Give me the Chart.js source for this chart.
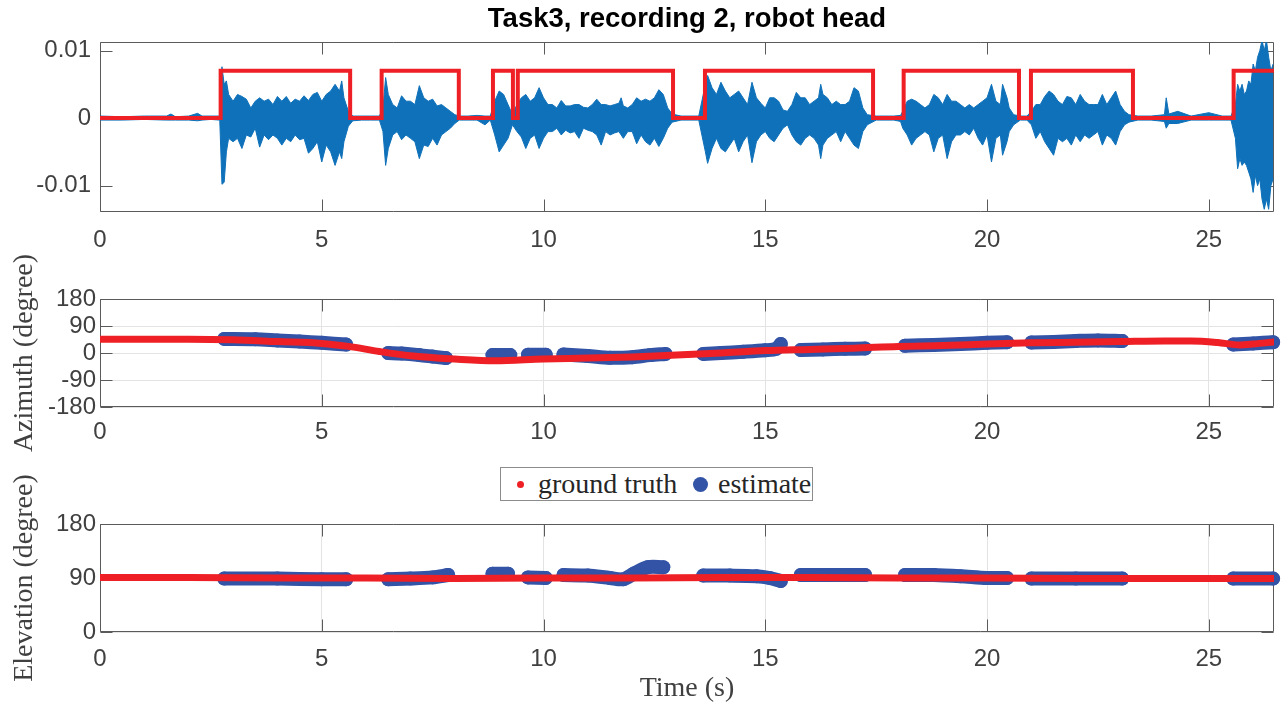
<!DOCTYPE html>
<html>
<head>
<meta charset="utf-8">
<title>Task3, recording 2, robot head</title>
<script src="https://cdn.jsdelivr.net/npm/chart.js@4.4.1/dist/chart.umd.min.js"></script>
<style>
  html, body { margin: 0; padding: 0; background: #fff; }
  body { width: 1281px; height: 706px; position: relative; overflow: hidden; }
  canvas { position: absolute; left: 0; }
  #legend {
    position: absolute; left: 500px; top: 467px; width: 313px; height: 34px;
    box-sizing: border-box; border: 1px solid #8c8c8c; background: #fff;
    font-family: "Liberation Serif", "Times New Roman", serif; font-size: 28px; color: #262626;
    z-index: 5;
  }
  #legend .dot { position: absolute; border-radius: 50%; }
  #legend .txt { position: absolute; top: 0; line-height: 31px; white-space: nowrap; }
</style>
</head>
<body>
<canvas id="audio" width="1281" height="252" style="top:0px"></canvas>
<canvas id="azimuth" width="1281" height="225" style="top:245px"></canvas>
<canvas id="elevation" width="1281" height="236" style="top:470px"></canvas>
<div id="legend">
  <span class="dot" style="left:16px; top:13px; width:7px; height:7px; background:#ee2025"></span>
  <span class="txt" style="left:37px">ground truth</span>
  <span class="dot" style="left:192px; top:9px; width:15px; height:15px; background:#3354a6"></span>
  <span class="txt" style="left:217px">estimate</span>
</div>
<script>
// time axis (s)
const timeMax = 26.47;
const timeTicks = [0, 5, 10, 15, 20, 25];

// microphone signal envelope, in units of 1e-3
const audioTime = [
  0, 0.5, 1.0, 1.5, 1.6, 1.7, 2.0, 2.2, 2.3, 2.5, 2.7,
  2.75, 2.8, 2.85, 2.9, 3.0, 3.1, 3.2, 3.3, 3.4, 3.5, 3.6, 3.7, 3.8, 3.9, 4.0, 4.1, 4.2, 4.3, 4.4, 4.5, 4.6, 4.7, 4.8, 4.9, 5.0, 5.1, 5.2, 5.3, 5.4, 5.45, 5.5, 5.6, 5.7,
  5.9, 6.1, 6.3,
  6.38, 6.44, 6.5, 6.6, 6.7, 6.8, 6.9, 7.0, 7.1, 7.2, 7.3, 7.4, 7.5, 7.6, 7.7, 7.8, 7.9, 8.0, 8.1,
  8.3, 8.5, 8.68, 8.8,
  8.9, 9.0, 9.1, 9.2, 9.3,
  9.4, 9.5, 9.6, 9.7, 9.8, 9.9, 10.0, 10.1, 10.2, 10.3, 10.4, 10.5, 10.6, 10.7, 10.8, 10.9, 11.0, 11.1, 11.2, 11.3, 11.4, 11.5, 11.6, 11.7, 11.75, 11.8, 11.9, 12.0, 12.1, 12.2, 12.3, 12.4, 12.5, 12.6, 12.7, 12.8, 12.9,
  13.1, 13.3, 13.5,
  13.65, 13.7, 13.8, 13.9, 14.0, 14.1, 14.2, 14.3, 14.4, 14.5, 14.6, 14.7, 14.8, 14.9, 15.0, 15.1, 15.2, 15.3, 15.4, 15.5, 15.6, 15.7, 15.8, 15.9, 16.0, 16.1, 16.2, 16.25, 16.3, 16.4, 16.5, 16.6, 16.7, 16.8, 16.9, 17.0, 17.1, 17.2, 17.3,
  17.5, 17.7, 17.9, 18.05,
  18.1, 18.2, 18.3, 18.4, 18.5, 18.6, 18.7, 18.8, 18.9, 19.0, 19.1, 19.2, 19.3, 19.4, 19.5, 19.6, 19.7, 19.8, 19.9, 20.0, 20.1, 20.2, 20.3, 20.35, 20.45, 20.5, 20.6,
  20.75, 20.9,
  21.0, 21.1, 21.2, 21.3, 21.4, 21.5, 21.6, 21.7, 21.8, 21.9, 22.0, 22.1, 22.2, 22.3, 22.4, 22.5, 22.6, 22.7, 22.8, 22.9, 23.0, 23.1, 23.2,
  23.4, 23.7, 24.0, 24.04, 24.1, 24.3, 24.6, 25.0, 25.3, 25.5,
  25.6, 25.65, 25.7, 25.75, 25.8, 25.85, 25.9, 25.95, 26.0, 26.05, 26.1, 26.15, 26.2, 26.25, 26.3, 26.35, 26.4, 26.45
];
const audioUpper = [
  0.3, 0.2, 0.3, 0.3, 0.6, 0.2, 0.3, 0.7, 0.3, 0.3, 0.3,
  7.6, 5.0, 5.5, 3.5, 2.5, 3.5, 3.2, 2.8, 1.5, 2.5, 3.0, 2.5, 2.8, 2.0, 3.2, 2.5, 3.2, 2.2, 2.8, 2.5, 3.3, 2.6, 3.5, 3.8, 2.5, 3.5, 4.0, 5.0, 4.0, 5.5, 3.0, 1.0, 0.3,
  0.3, 0.3, 0.3,
  1.5, 6.0, 3.5, 2.0, 1.5, 3.3, 2.5, 2.5, 2.0, 4.8, 3.0, 2.5, 2.8, 1.8, 2.0, 1.5, 1.0, 0.5, 0.3,
  0.3, 0.4, 0.3, 0.3,
  2.5, 4.0, 3.5, 2.0, 0.5,
  2.0, 3.0, 3.5, 2.5, 3.0, 4.5, 3.0, 2.0, 2.0, 1.5, 2.6, 1.8, 1.8, 2.0, 2.0, 1.6, 1.5, 2.0, 2.8, 2.0, 2.0, 1.8, 2.0, 2.2, 3.0, 1.8, 1.5, 2.0, 3.0, 2.5, 2.8, 2.5, 3.0, 4.2, 3.5, 1.5, 0.6,
  0.3, 0.3, 0.3,
  5.0, 6.3, 4.5, 3.5, 5.3, 4.0, 3.0, 3.5, 4.0, 3.0, 2.0, 5.3, 3.0, 2.2, 1.5, 3.0, 3.0, 2.5, 1.2, 1.0, 2.0, 3.8, 3.0, 3.0, 2.0, 2.5, 3.0, 5.0, 3.5, 3.0, 2.0, 2.5, 2.0, 2.0, 2.5, 4.5, 4.0, 1.5, 0.5,
  0.3, 0.3, 0.3, 0.4,
  1.0, 2.5, 2.8, 2.5, 2.0, 1.5, 2.0, 3.5, 3.0, 2.0, 3.5, 2.5, 2.5, 2.0, 1.5, 2.0, 1.5, 2.0, 2.5, 3.0, 5.0, 2.5, 2.0, 5.0, 3.0, 1.5, 0.5,
  0.3, 0.3,
  1.0, 2.0, 2.0, 3.2, 4.0, 3.5, 2.5, 2.0, 3.2, 3.0, 2.0, 3.5, 2.5, 2.0, 2.0, 2.0, 3.5, 2.0, 3.0, 4.0, 2.0, 1.0, 0.5,
  0.3, 0.3, 0.5, 3.0, 0.6, 1.0, 0.3, 0.8, 0.3, 0.3,
  2.0, 5.0, 4.0, 5.0, 3.5, 4.0, 5.5, 5.0, 8.0, 7.0, 9.0, 10.0, 11.5, 10.0, 11.5, 9.0, 7.0, 8.0
];
const audioLower = [
  -0.3, -0.3, -0.2, -0.3, -0.3, -0.3, -0.3, -0.4, -0.3, -0.2, -0.3,
  -9.8, -9.5, -5.0, -3.0, -3.5, -3.0, -4.5, -2.5, -2.8, -1.5, -4.3, -2.5, -3.2, -2.5, -3.0, -4.0, -3.0, -3.5, -2.5, -3.2, -3.0, -5.2, -4.5, -3.5, -6.5, -4.0, -5.0, -7.0, -5.0, -6.0, -3.5, -1.2, -0.4,
  -0.3, -0.3, -0.3,
  -2.0, -7.0, -4.5, -2.5, -2.0, -3.2, -2.5, -3.0, -3.5, -6.0, -4.0, -4.2, -3.0, -4.0, -2.5, -2.0, -1.5, -0.8, -0.3,
  -0.3, -0.3, -1.0, -0.3,
  -2.5, -5.0, -4.0, -3.0, -1.0,
  -2.0, -2.8, -4.5, -3.0, -2.5, -4.5, -3.0, -2.0, -2.0, -1.5, -2.5, -1.8, -2.2, -2.0, -3.0, -1.5, -1.8, -2.0, -2.5, -4.0, -2.0, -2.5, -2.2, -2.0, -2.5, -3.0, -2.0, -2.0, -3.8, -2.5, -3.5, -4.0, -3.0, -4.2, -3.0, -1.5, -0.6,
  -0.3, -0.3, -0.3,
  -5.0, -6.7, -4.5, -3.0, -4.5, -5.0, -4.0, -3.0, -5.0, -3.5, -2.5, -6.6, -3.5, -2.5, -2.0, -3.0, -3.5, -2.5, -1.5, -1.0, -2.5, -3.5, -4.0, -3.0, -2.5, -3.0, -4.0, -6.0, -4.0, -3.0, -2.5, -2.0, -3.5, -2.0, -3.0, -4.0, -4.5, -2.0, -1.0,
  -0.3, -0.3, -0.3, -0.5,
  -1.5, -2.5, -4.0, -3.0, -2.5, -2.0, -2.5, -5.0, -3.0, -2.5, -6.0, -3.5, -2.5, -2.5, -2.0, -2.5, -1.5, -3.0, -4.0, -2.5, -6.5, -3.0, -2.5, -5.5, -3.5, -2.0, -1.0,
  -0.3, -0.3,
  -1.0, -3.0, -2.0, -3.5, -4.5, -5.5, -3.0, -3.5, -3.0, -4.0, -2.5, -3.5, -2.5, -3.0, -2.5, -2.0, -4.0, -2.5, -3.0, -4.0, -2.0, -1.0, -0.6,
  -0.3, -0.3, -0.5, -1.5, -0.8, -0.8, -0.3, -0.3, -0.3, -0.3,
  -3.0, -7.5, -6.0, -7.0, -6.5, -7.0, -8.0, -9.0, -11.0, -8.5, -10.0, -9.0, -12.0, -13.5, -12.0, -13.5, -10.0, -9.0
];
const audioMin = -13.9;
const audioMax = 11.26;
const audioTicks = [-10, 0, 10];
const audioTickLabels = ['-0.01', '0', '0.01'];

// voice activity (red square wave), same units
const vadTime = [0, 2.72, 5.64, 6.35, 8.09, 8.86, 9.31, 9.42, 12.92, 13.64, 17.43, 18.12, 20.72, 20.99, 23.29, 25.56, 26.47];
const vadLevel = [0, 7, 0, 7, 0, 7, 0, 7, 0, 7, 0, 7, 0, 7, 0, 7, 7];

// azimuth (degree)
const azTruthTime = [0, 1, 2, 3, 4, 5, 5.6, 6.3, 7, 8, 8.9, 10, 11, 12, 13, 14, 15, 16, 17, 18, 19, 20, 21, 22, 23, 24, 24.6, 25.2, 25.7, 26, 26.47];
const azTruth = [46, 46, 46, 44, 38, 32, 22, 5, -9, -20, -26, -20, -17, -13, -7, 0, 8, 12, 16, 22, 25, 30, 34, 36, 38, 40, 40, 35, 27, 30, 37];
const azEstTime = [2.8, 3.5, 4.0, 4.5, 5.0, 5.55, 6.0, 6.5, 6.8, 7.2, 7.5, 7.8, 8.3, 8.85, 9.25, 9.45, 9.65, 10.05, 10.25, 10.45, 11.0, 11.5, 12.0, 12.4, 12.75, 13.2,
  13.6, 14.0, 14.5, 15.0, 15.25, 15.35, 15.6, 15.8, 16.3, 16.8, 17.25, 17.7, 18.15, 18.8, 19.4, 20.0, 20.45, 20.7, 21.0, 21.5, 22.0, 22.5, 23.05, 24.3, 25.55, 26.0, 26.45];
const azEst = [47, 46, 42, 38, 34, 28, null, 0, -2, -7, -12, -17, null, -7, -7, null, -6, -6, null, -5, -10, -16, -14, -7, -3, null,
  -3, 0, 4, 9, 14, 30, null, 10, 12, 14, 15, null, 24, 27, 30, 34, 36, null, 35, 37, 40, 42, 40, null, 28, 32, 36];
const azTicks = [-180, -90, 0, 90, 180];

// elevation (degree)
const elTruthTime = [0, 2, 4, 6, 8, 10, 12, 14, 16, 18, 20, 22, 24, 26.47];
const elTruth = [91, 91, 90, 90, 89, 90, 90, 91, 91, 90, 90, 89, 89, 89];
const elEstTime = [2.8, 4.0, 5.0, 5.55, 6.0, 6.5, 7.0, 7.5, 7.85, 8.3, 8.85, 9.2, 9.45, 9.65, 10.05, 10.25,
  10.45, 11.0, 11.5, 11.8, 12.05, 12.35, 12.7, 13.2, 13.6, 14.2, 14.8, 15.1, 15.35, 15.6, 15.8, 16.5, 17.25, 17.7,
  18.15, 18.8, 19.4, 20.0, 20.45, 20.7, 21.0, 22.0, 23.05, 24.3, 25.55, 26.45];
const elEst = [89, 89, 88, 88, null, 88, 89, 91, 95, null, 97, 97, null, 91, 90, null,
  95, 94, 90, 88, 98, 108, 108, null, 94, 94, 93, 90, 85, null, 95, 95, 95, null,
  95, 95, 93, 90, 90, null, 89, 89, 89, null, 89, 89];
const elTicks = [0, 90, 180];

const red = '#ee2025';
const waveBlue = '#0f71b9';
const estBlue = '#3354a6';
const tickColor = '#404040';
const sans = '"Liberation Sans", Arial, sans-serif';
const serif = '"Liberation Serif", "Times New Roman", serif';

Chart.defaults.font.family = sans;
Chart.defaults.color = tickColor;

const pts = (xs, ys) => xs.map((x, i) => ({ x: x, y: ys[i] }));

// MATLAB style box with inward ticks on all four sides
const axesBox = {
  id: 'axesBox',
  beforeDatasetsDraw(chart) {
    const { ctx, chartArea: a, scales: { x, y } } = chart;
    const L = Math.round(a.left) + 0.5, R = Math.round(a.right) - 0.5;
    const T = Math.round(a.top) + 0.5, B = Math.round(a.bottom) - 0.5;
    ctx.save();
    ctx.strokeStyle = '#5a5a5a';
    ctx.lineWidth = 1;
    ctx.beginPath();
    x.ticks.forEach((t) => {
      const px = Math.round(x.getPixelForValue(t.value)) + 0.5;
      ctx.moveTo(px, B); ctx.lineTo(px, B - 12);
      ctx.moveTo(px, T); ctx.lineTo(px, T + 12);
    });
    y.ticks.forEach((t) => {
      const py = Math.round(y.getPixelForValue(t.value)) + 0.5;
      ctx.moveTo(L, py); ctx.lineTo(L + 12, py);
      ctx.moveTo(R, py); ctx.lineTo(R - 12, py);
    });
    ctx.rect(L, T, R - L, B - T);
    ctx.stroke();
    ctx.restore();
  }
};

function xScale(height, pad, gridOn, title) {
  return {
    type: 'linear', min: 0, max: timeMax,
    afterBuildTicks: (s) => { s.ticks = timeTicks.map((v) => ({ value: v })); },
    afterFit: (s) => { s.height = height; },
    ticks: { font: { size: 24 }, color: tickColor, padding: pad, maxRotation: 0, autoSkip: false },
    grid: { display: gridOn, color: '#e3e3e3', drawTicks: false },
    border: { display: false },
    title: title ? { display: true, text: title, font: { family: serif, size: 28 }, color: tickColor, padding: { top: 0, bottom: 1 } } : { display: false }
  };
}

function yScale(min, max, ticks, labels, pad, gridOn, title) {
  return {
    type: 'linear', min: min, max: max,
    afterBuildTicks: (s) => { s.ticks = ticks.map((v) => ({ value: v })); },
    afterFit: (s) => { s.width = 100; },
    ticks: { font: { size: 24 }, color: tickColor, padding: pad, autoSkip: false, callback: (v, i) => labels[i] },
    grid: { display: gridOn, color: '#e3e3e3', drawTicks: false },
    border: { display: false },
    title: title ? { display: true, text: title, font: { family: serif, size: 28 }, color: tickColor, padding: { top: 8, bottom: 0 } } : { display: false }
  };
}

const baseOptions = {
  responsive: false,
  animation: false,
  events: [],
  plugins: { legend: { display: false }, tooltip: { enabled: false } }
};

new Chart(document.getElementById('audio'), {
  type: 'line',
  data: {
    datasets: [
      { data: pts(vadTime, vadLevel), borderColor: red, borderWidth: 4, pointRadius: 0, stepped: true },
      { data: pts(audioTime, audioUpper), borderColor: waveBlue, backgroundColor: waveBlue, borderWidth: 1, pointRadius: 0, fill: '+1' },
      { data: pts(audioTime, audioLower), borderColor: waveBlue, borderWidth: 1, pointRadius: 0, fill: false }
    ]
  },
  options: {
    ...baseOptions,
    layout: { padding: { left: 0, right: 7, top: 0, bottom: 0 } },
    plugins: {
      ...baseOptions.plugins,
      title: {
        display: true, text: 'Task3, recording 2, robot head', fullSize: false,
        font: { family: sans, size: 27.5, weight: 'bold' }, color: '#000', padding: { top: 3, bottom: 6 }
      }
    },
    scales: {
      x: xScale(40, 14, false, null),
      y: yScale(audioMin, audioMax, audioTicks, audioTickLabels, 9, false, null)
    }
  },
  plugins: [axesBox]
});

new Chart(document.getElementById('azimuth'), {
  type: 'line',
  data: {
    datasets: [
      { data: pts(azTruthTime, azTruth), borderColor: red, borderWidth: 7, pointRadius: 0, cubicInterpolationMode: 'monotone', borderCapStyle: 'round' },
      { data: pts(azEstTime, azEst), borderColor: estBlue, backgroundColor: estBlue, borderWidth: 14, pointRadius: 7, pointBorderWidth: 0,
        tension: 0.3, spanGaps: false, borderCapStyle: 'round', borderJoinStyle: 'round', clip: false }
    ]
  },
  options: {
    ...baseOptions,
    layout: { padding: { left: 0, right: 7, top: 54, bottom: 0 } },
    scales: {
      x: xScale(63, 11, true, null),
      y: yScale(-180, 180, azTicks, azTicks.map(String), 4, true, 'Azimuth (degree)')
    }
  },
  plugins: [axesBox]
});

new Chart(document.getElementById('elevation'), {
  type: 'line',
  data: {
    datasets: [
      { data: pts(elTruthTime, elTruth), borderColor: red, borderWidth: 7, pointRadius: 0, cubicInterpolationMode: 'monotone', borderCapStyle: 'round' },
      { data: pts(elEstTime, elEst), borderColor: estBlue, backgroundColor: estBlue, borderWidth: 14, pointRadius: 7, pointBorderWidth: 0,
        tension: 0.3, spanGaps: false, borderCapStyle: 'round', borderJoinStyle: 'round', clip: false }
    ]
  },
  options: {
    ...baseOptions,
    layout: { padding: { left: 0, right: 7, top: 54, bottom: 0 } },
    scales: {
      x: xScale(74, 13, true, 'Time (s)'),
      y: yScale(0, 180, elTicks, elTicks.map(String), 4, true, 'Elevation (degree)')
    }
  },
  plugins: [axesBox]
});
</script>
</body>
</html>
